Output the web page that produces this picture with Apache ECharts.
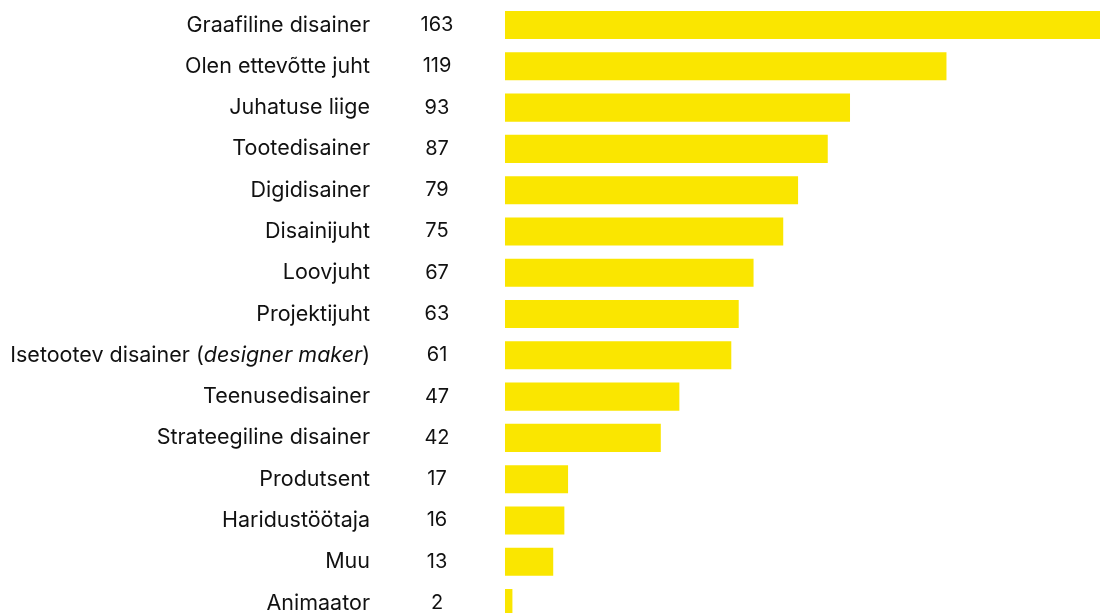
<!DOCTYPE html>
<html>
<head>
<meta charset="utf-8">
<script src="https://cdn.jsdelivr.net/npm/echarts@6/dist/echarts.min.js"></script>
<style>
  html, body { margin: 0; padding: 0; background: #fff; }
  #chart { width: 1100px; height: 613px; }
</style>
</head>
<body>
<div id="chart"></div>
<script>
  const roles = [
    'Graafiline disainer',
    'Olen ettevõtte juht',
    'Juhatuse liige',
    'Tootedisainer',
    'Digidisainer',
    'Disainijuht',
    'Loovjuht',
    'Projektijuht',
    'Isetootev disainer (designer maker)',
    'Teenusedisainer',
    'Strateegiline disainer',
    'Produtsent',
    'Haridustöötaja',
    'Muu',
    'Animaator',
  ]
  const counts = [163, 119, 93, 87, 79, 75, 67, 63, 61, 47, 42, 17, 16, 13, 2]

  const font = 'Inter, "Noto Sans", sans-serif'
  const chart = echarts.init(document.getElementById('chart'))

  chart.setOption({
    animation: false,
    // the longest bar runs past the right edge of the picture
    grid: {
      left: 505,
      top: 4.4,
      width: 604.7,
      height: 619.3,
      outerBoundsMode: 'none',
    },
    xAxis: {
      type: 'value',
      min: 0,
      max: 163,
      show: false,
    },
    yAxis: {
      type: 'category',
      data: roles,
      inverse: true,
      axisLine: { show: false },
      axisTick: { show: false },
      axisLabel: {
        margin: 135,
        color: '#111',
        fontFamily: font,
        fontSize: 21.5,
        formatter: (v) => {
          const m = v.match(/^(.*)\((.*)\)$/)
          return m ? m[1] + '({i|' + m[2] + '})' : v
        },
        rich: {
          i: { fontStyle: 'italic', color: '#111', fontFamily: font, fontSize: 21.5 },
        },
      },
    },
    series: [
      {
        type: 'bar',
        data: counts,
        barCategoryGap: '32%',
        itemStyle: { color: '#fae600' },
        label: {
          show: true,
          position: 'left',
          distance: 68,
          align: 'center',
          color: '#111',
          fontFamily: font,
          fontSize: 20,
        },
      },
    ],
  })
</script>
</body>
</html>
